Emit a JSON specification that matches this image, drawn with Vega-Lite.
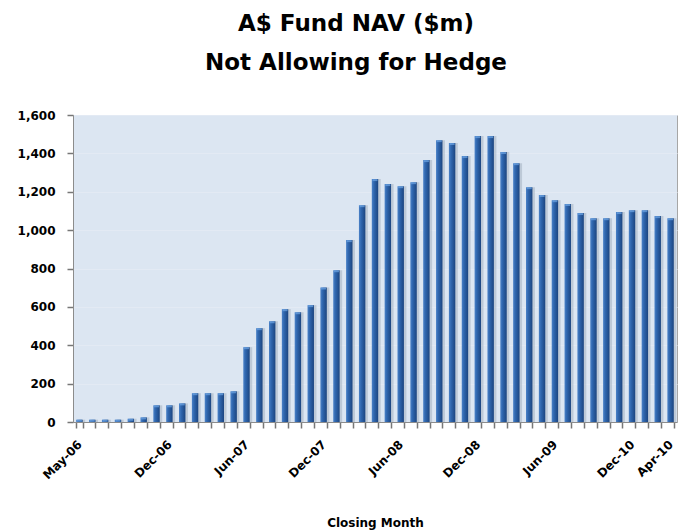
{
  "$schema": "https://vega.github.io/schema/vega-lite/v6.json",
  "width": 604,
  "height": 307,
  "autosize": {"type": "none"},
  "padding": {"left": 73, "top": 115, "right": 6, "bottom": 109},
  "background": "white",
  "title": {
    "text": ["A$ Fund NAV ($m)", "Not Allowing for Hedge"],
    "font": "DejaVu Sans",
    "fontSize": 23,
    "fontWeight": "bold",
    "color": "#000000",
    "anchor": "middle",
    "dx": -19,
    "offset": 34,
    "lineHeight": 39
  },
  "config": {
    "view": {"fill": "#dce6f2", "stroke": "#a6a6a6", "strokeWidth": 1},
    "axis": {
      "labelFont": "DejaVu Sans",
      "labelFontWeight": "bold",
      "labelFontSize": 12,
      "labelColor": "#000000",
      "titleFont": "DejaVu Sans",
      "titleFontWeight": "bold",
      "titleFontSize": 12,
      "titleColor": "#000000",
      "domainColor": "#8c8c8c"
    }
  },
  "data": {
    "values": [
      {"month": "May-06", "nav": 12}, {"month": "Jun-06", "nav": 12}, {"month": "Jul-06", "nav": 12},
      {"month": "Aug-06", "nav": 12}, {"month": "Sep-06", "nav": 17}, {"month": "Oct-06", "nav": 24},
      {"month": "Nov-06", "nav": 87}, {"month": "Dec-06", "nav": 87}, {"month": "Jan-07", "nav": 97},
      {"month": "Feb-07", "nav": 150}, {"month": "Mar-07", "nav": 150}, {"month": "Apr-07", "nav": 150},
      {"month": "May-07", "nav": 160}, {"month": "Jun-07", "nav": 390}, {"month": "Jul-07", "nav": 489},
      {"month": "Aug-07", "nav": 525}, {"month": "Sep-07", "nav": 588}, {"month": "Oct-07", "nav": 572},
      {"month": "Nov-07", "nav": 609}, {"month": "Dec-07", "nav": 701}, {"month": "Jan-08", "nav": 791},
      {"month": "Feb-08", "nav": 948}, {"month": "Mar-08", "nav": 1130}, {"month": "Apr-08", "nav": 1266},
      {"month": "May-08", "nav": 1240}, {"month": "Jun-08", "nav": 1229}, {"month": "Jul-08", "nav": 1250},
      {"month": "Aug-08", "nav": 1365}, {"month": "Sep-08", "nav": 1469}, {"month": "Oct-08", "nav": 1454},
      {"month": "Nov-08", "nav": 1386}, {"month": "Dec-08", "nav": 1490}, {"month": "Jan-09", "nav": 1490},
      {"month": "Feb-09", "nav": 1407}, {"month": "Mar-09", "nav": 1349}, {"month": "Apr-09", "nav": 1224},
      {"month": "May-09", "nav": 1183}, {"month": "Jun-09", "nav": 1156}, {"month": "Jul-09", "nav": 1136},
      {"month": "Aug-09", "nav": 1089}, {"month": "Sep-09", "nav": 1062}, {"month": "Oct-09", "nav": 1062},
      {"month": "Nov-09", "nav": 1094}, {"month": "Dec-09", "nav": 1104}, {"month": "Jan-10", "nav": 1104},
      {"month": "Feb-10", "nav": 1073}, {"month": "Apr-10", "nav": 1062}
    ]
  },
  "encoding": {
    "x": {
      "field": "month",
      "type": "ordinal",
      "sort": null,
      "scale": {"paddingInner": 0.5, "paddingOuter": 0.25},
      "axis": {
        "title": "Closing Month",
        "titlePadding": 36,
        "labelAngle": -45,
        "labelAlign": "right",
        "labelBaseline": "middle",
        "labelOverlap": false,
        "labelPadding": 14,
        "ticks": true,
        "tickSize": 6,
        "tickColor": "#777777",
        "tickWidth": 1.5,
        "tickBand": "extent",
        "labelExpr": "indexof(['May-06','Dec-06','Jun-07','Dec-07','Jun-08','Dec-08','Jun-09','Dec-09','Apr-10'], datum.value) >= 0 ? (datum.value == 'Dec-09' ? 'Dec-10' : datum.value) : ''"
      }
    },
    "y": {
      "field": "nav",
      "type": "quantitative",
      "scale": {"domain": [0, 1600], "nice": false},
      "axis": {
        "title": null,
        "values": [0, 200, 400, 600, 800, 1000, 1200, 1400, 1600],
        "format": ",.0f",
        "ticks": true,
        "tickSize": 6,
        "tickColor": "#777777",
        "tickWidth": 1.5,
        "labelPadding": 12,
        "grid": true,
        "gridColor": "#e3eaf4",
        "gridWidth": 1
      }
    }
  },
  "layer": [
    {"mark": {"type": "bar", "xOffset": 2.5, "color": "#a9b5c5", "opacity": 0.6}},
    {
      "mark": {
        "type": "bar",
        "color": {
          "gradient": "linear",
          "x1": 0, "y1": 0, "x2": 1, "y2": 0,
          "stops": [
            {"offset": 0, "color": "#4b82c8"},
            {"offset": 0.35, "color": "#2f66ae"},
            {"offset": 1, "color": "#1c4580"}
          ]
        }
      }
    },
    {"mark": {"type": "tick", "color": "#6fa6e6", "thickness": 2, "size": 5, "yOffset": 1}}
  ]
}
